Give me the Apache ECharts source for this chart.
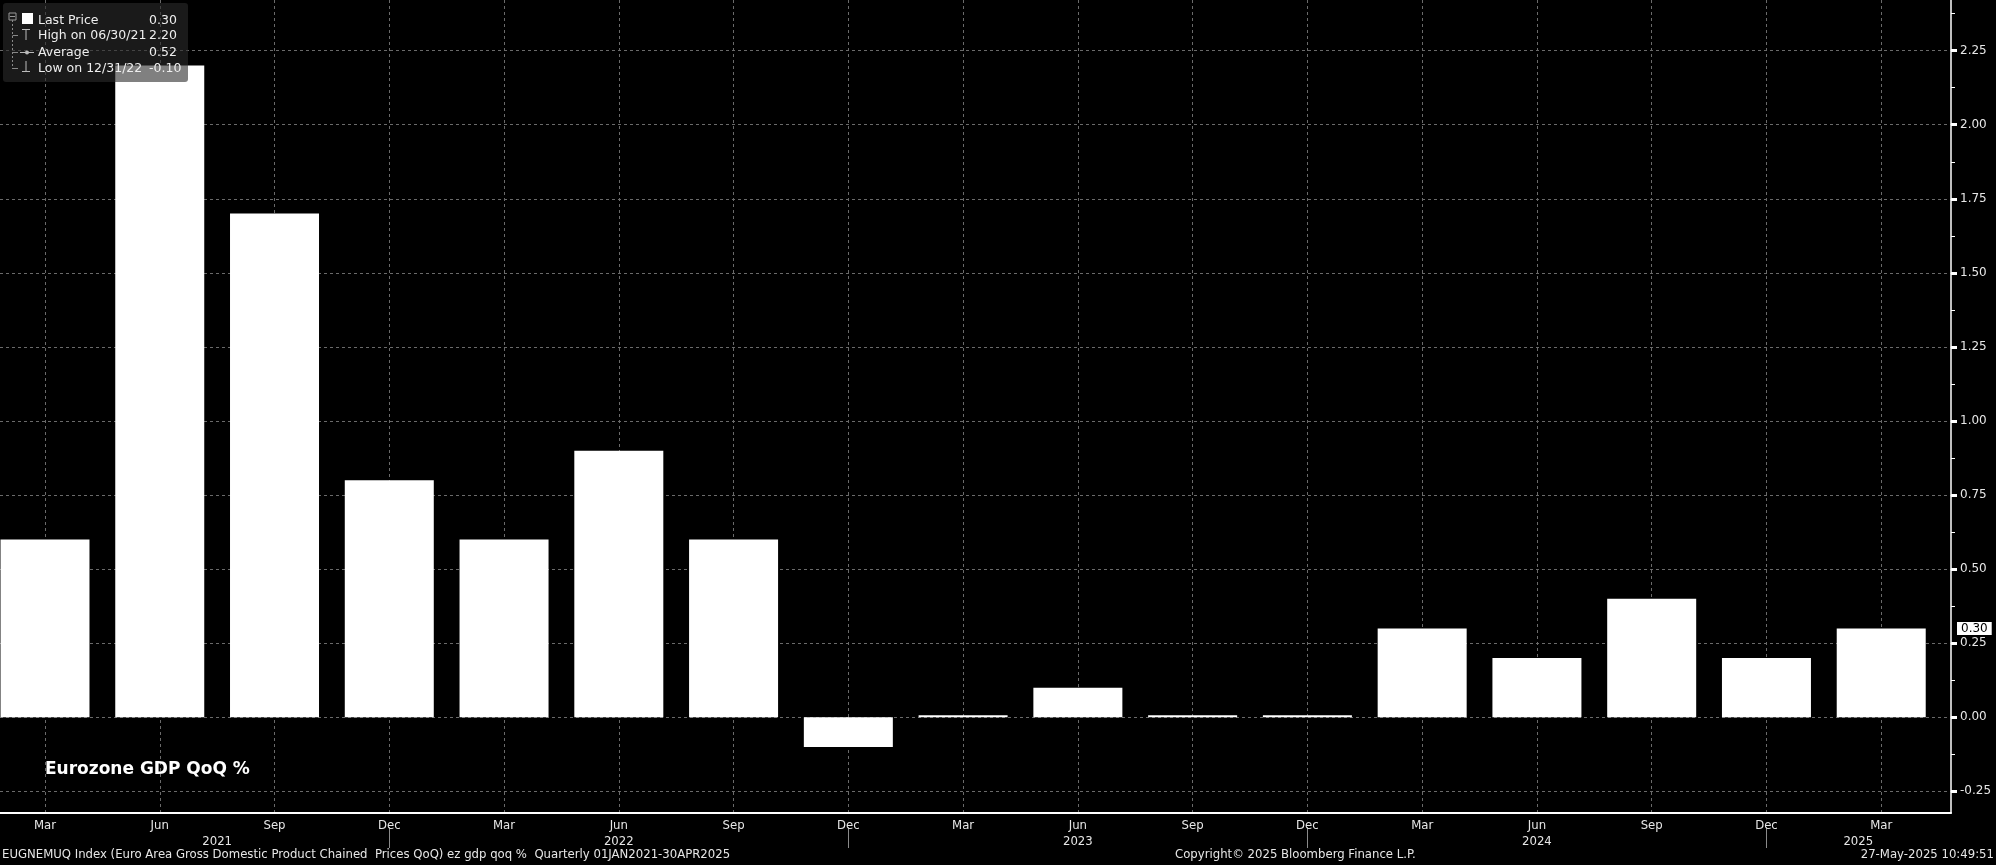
<!DOCTYPE html>
<html>
<head>
<meta charset="utf-8">
<script src="https://cdn.jsdelivr.net/npm/echarts@6/dist/echarts.min.js"></script>
<style>
html,body{margin:0;padding:0;background:#000;}
#c{width:1996px;height:865px;}
</style>
</head>
<body>
<div id="c"></div>
<script>
// ---- data ----
const quarters = ['Mar','Jun','Sep','Dec','Mar','Jun','Sep','Dec','Mar','Jun','Sep','Dec','Mar','Jun','Sep','Dec','Mar'];
const gdpQoQ = [0.6, 2.2, 1.7, 0.8, 0.6, 0.9, 0.6, -0.1, 0.0, 0.1, 0.0, 0.0, 0.3, 0.2, 0.4, 0.2, 0.3];
const years = ['2021','2022','2023','2024','2025'];
const yearCenters = [1.5, 5, 9, 13, 15.8];      // in quarter-index units
const yearSeparators = [3, 7, 11, 15];            // Dec positions
const yTicks = [-0.25, 0, 0.25, 0.5, 0.75, 1.0, 1.25, 1.5, 1.75, 2.0, 2.25];
const yMinorTicks = [-0.125, 0.125, 0.375, 0.625, 0.875, 1.125, 1.375, 1.625, 1.875, 2.125, 2.375];
const lastPrice = 0.30, highVal = 2.20, avgVal = 0.52, lowVal = -0.10;
const footerLeft = 'EUGNEMUQ Index (Euro Area Gross Domestic Product Chained  Prices QoQ) ez gdp qoq %  Quarterly 01JAN2021-30APR2025';
const footerMid = 'Copyright\u00A9 2025 Bloomberg Finance L.P.';
const footerRight = '27-May-2025 10:49:51';
const chartTitle = 'Eurozone GDP QoQ %';

const X_MIN = -0.392, X_MAX = 16.608;
const Y_MIN = -0.323, Y_MAX = 2.421;
const narrow = "'Liberation Sans Narrow','DejaVu Sans Condensed','Arial Narrow',sans-serif";
const sans = "'DejaVu Sans',Verdana,sans-serif";

const chart = echarts.init(document.getElementById('c'));
const idx = quarters.map((_, i) => i);
const lf = '12.5px ' + sans;

const option = {
  backgroundColor: '#000',
  animation: false,
  grid: {left: 0, right: 45, top: 0, bottom: 52, containLabel: false},
  xAxis: [
    {
      type: 'value', min: X_MIN, max: X_MAX, position: 'bottom',
      axisLine: {show: true, onZero: false, lineStyle: {color: '#fff', width: 2}},
      axisTick: {show: true, customValues: idx, length: 0},
      axisLabel: {customValues: idx, formatter: v => quarters[Math.round(v)], color: '#e6e6e6',
                  fontFamily: narrow, fontSize: 13, margin: 6},
      splitLine: {show: true, lineStyle: {color: '#6a6a6a', type: [3, 3], width: 1}}
    },
    {
      type: 'value', min: X_MIN, max: X_MAX, position: 'bottom', offset: 14,
      axisLine: {show: false, onZero: false},
      axisTick: {show: true, customValues: yearSeparators, length: 21, lineStyle: {color: '#8a8a8a', width: 1}},
      axisLabel: {customValues: yearCenters, formatter: v => years[yearCenters.indexOf(v)], color: '#e6e6e6',
                  fontFamily: narrow, fontSize: 13, margin: 8},
      splitLine: {show: false}
    }
  ],
  yAxis: [
    {
      type: 'value', min: Y_MIN, max: Y_MAX, position: 'right',
      axisLine: {show: true, onZero: false, lineStyle: {color: '#fff', width: 1.5}},
      axisTick: {show: true, customValues: yTicks, length: 6, lineStyle: {color: '#fff', width: 3}},
      axisLabel: {customValues: yTicks, formatter: v => v.toFixed(2), color: '#e6e6e6',
                  fontFamily: sans, fontSize: 12, margin: 9},
      splitLine: {show: true, lineStyle: {color: '#6a6a6a', type: [3, 3], width: 1}}
    },
    {
      type: 'value', min: Y_MIN, max: Y_MAX, position: 'right',
      axisLine: {show: false, onZero: false},
      axisTick: {show: true, customValues: yMinorTicks, length: 4, lineStyle: {color: '#fff', width: 1}},
      axisLabel: {show: false},
      splitLine: {show: false}
    },
    {
      type: 'value', min: Y_MIN, max: Y_MAX, position: 'right',
      axisLine: {show: false, onZero: false},
      axisTick: {show: false},
      axisLabel: {customValues: [lastPrice], formatter: v => v.toFixed(2), color: '#000',
                  backgroundColor: '#fff', padding: [1, 4, 0, 4], fontFamily: sans, fontSize: 12, margin: 6},
      splitLine: {show: false}
    }
  ],
  series: [{
    type: 'bar',
    xAxisIndex: 0, yAxisIndex: 0,
    data: gdpQoQ.map((v, i) => [i, v]),
    barWidth: 89,
    barMinHeight: 2,
    itemStyle: {color: '#fff'},
    silent: true
  }],
  title: [
    {text: chartTitle, left: 45, top: 761, textStyle: {color: '#fff', fontFamily: sans, fontWeight: 'bold', fontSize: 17}, padding: 0},
    {text: footerLeft, left: 2, top: 848, textStyle: {color: '#e6e6e6', fontFamily: narrow, fontWeight: 'normal', fontSize: 13}, padding: 0},
    {text: footerMid, left: 1175, top: 848, textStyle: {color: '#e6e6e6', fontFamily: narrow, fontWeight: 'normal', fontSize: 13}, padding: 0},
    {text: footerRight, right: 2, top: 848, textStyle: {color: '#e6e6e6', fontFamily: narrow, fontWeight: 'normal', fontSize: 13}, padding: 0}
  ],
  graphic: [{
    type: 'group', left: 3, top: 3, z: 100,
    children: [
      {type: 'rect', shape: {x: 0, y: 0, width: 185, height: 79, r: 3}, style: {fill: 'rgba(43,43,43,0.6)'}, z: 100},
      // tree
      {type: 'rect', shape: {x: 6, y: 10, width: 7, height: 7}, style: {fill: 'none', stroke: '#999', lineWidth: 1}, z: 101},
      {type: 'line', shape: {x1: 7, y1: 13.5, x2: 12, y2: 13.5}, style: {stroke: '#999', lineWidth: 1}, z: 101},
      {type: 'line', shape: {x1: 9.5, y1: 17, x2: 9.5, y2: 66}, style: {stroke: '#888', lineWidth: 1, lineDash: [2, 2]}, z: 101},
      {type: 'line', shape: {x1: 9.5, y1: 32.5, x2: 15, y2: 32.5}, style: {stroke: '#888', lineWidth: 1}, z: 101},
      {type: 'line', shape: {x1: 9.5, y1: 49.5, x2: 15, y2: 49.5}, style: {stroke: '#888', lineWidth: 1}, z: 101},
      {type: 'line', shape: {x1: 9.5, y1: 65.5, x2: 15, y2: 65.5}, style: {stroke: '#888', lineWidth: 1}, z: 101},
      // icons
      {type: 'rect', shape: {x: 19, y: 10, width: 11, height: 11}, style: {fill: '#fff'}, z: 101},
      {type: 'line', shape: {x1: 19, y1: 26.5, x2: 27, y2: 26.5}, style: {stroke: '#bbb', lineWidth: 1}, z: 101},
      {type: 'line', shape: {x1: 23, y1: 26.5, x2: 23, y2: 37}, style: {stroke: '#bbb', lineWidth: 1}, z: 101},
      {type: 'line', shape: {x1: 17, y1: 49.5, x2: 31, y2: 49.5}, style: {stroke: '#bbb', lineWidth: 1}, z: 101},
      {type: 'circle', shape: {cx: 24, cy: 49.5, r: 2}, style: {fill: '#bbb'}, z: 101},
      {type: 'line', shape: {x1: 23, y1: 58, x2: 23, y2: 68.5}, style: {stroke: '#bbb', lineWidth: 1}, z: 101},
      {type: 'line', shape: {x1: 19, y1: 68.5, x2: 27, y2: 68.5}, style: {stroke: '#bbb', lineWidth: 1}, z: 101},
      // texts
      {type: 'text', x: 35, y: 18, style: {text: 'Last Price', fill: '#eee', font: lf, verticalAlign: 'middle'}, z: 101},
      {type: 'text', x: 146, y: 18, style: {text: lastPrice.toFixed(2), fill: '#eee', font: lf, verticalAlign: 'middle'}, z: 101},
      {type: 'text', x: 35, y: 33, style: {text: 'High on 06/30/21', fill: '#eee', font: lf, verticalAlign: 'middle'}, z: 101},
      {type: 'text', x: 146, y: 33, style: {text: highVal.toFixed(2), fill: '#eee', font: lf, verticalAlign: 'middle'}, z: 101},
      {type: 'text', x: 35, y: 49.5, style: {text: 'Average', fill: '#eee', font: lf, verticalAlign: 'middle'}, z: 101},
      {type: 'text', x: 146, y: 49.5, style: {text: avgVal.toFixed(2), fill: '#eee', font: lf, verticalAlign: 'middle'}, z: 101},
      {type: 'text', x: 35, y: 65.5, style: {text: 'Low on 12/31/22', fill: '#eee', font: lf, verticalAlign: 'middle'}, z: 101},
      {type: 'text', x: 146, y: 65.5, style: {text: lowVal.toFixed(2), fill: '#eee', font: lf, verticalAlign: 'middle'}, z: 101}
    ]
  }]
};
chart.setOption(option);
</script>
</body>
</html>
